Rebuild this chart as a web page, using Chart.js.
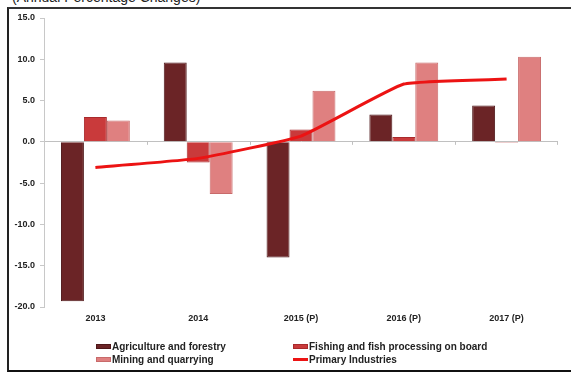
<!DOCTYPE html>
<html>
<head>
<meta charset="utf-8">
<script src="https://cdn.jsdelivr.net/npm/chart.js@4.4.1/dist/chart.umd.min.js"></script>
<style>
  html, body { margin: 0; padding: 0; background: #fff; overflow: hidden; }
  body { width: 571px; height: 372px; position: relative; font-family: "Liberation Sans", Arial, sans-serif; }
  #frame { position: absolute; left: 7px; top: 7px; width: 580px; height: 361px;
           border-top: 2px solid #333; border-left: 2px solid #222; border-bottom: 2px solid #111; }
  #title { position: absolute; left: 12px; top: -11px; font-size: 14px; color: #222; white-space: nowrap; }
  #wrap { position: absolute; left: 0; top: 0; width: 571px; height: 372px; }
  #legend { position: absolute; left: 96px; top: 340px; font-size: 10px; font-weight: bold; color: #222; }
  .item { position: absolute; white-space: nowrap; display: flex; align-items: center; height: 13px; }
  .sw { width: 15px; height: 5px; margin-right: 1px; box-sizing: border-box; }
</style>
</head>
<body>
<div id="title">(Annual Percentage Changes)</div>
<div id="frame"></div>
<div id="wrap"><canvas id="c" width="571" height="372"></canvas></div>
<div id="legend"></div>
<script>
const years = ['2013', '2014', '2015 (P)', '2016 (P)', '2017 (P)'];
const agriculture = [-19.3, 9.6, -14.0, 3.3, 4.4];
const fishing = [3.0, -2.5, 1.5, 0.6, -0.1];
const mining = [2.6, -6.3, 6.2, 9.6, 10.3];
const primary = [-3.1, -2.0, 0.7, 7.0, 7.6];
const yTicks = [15, 10, 5, 0, -5, -10, -15, -20];

const labelFont = { family: '"Liberation Sans", Arial, sans-serif', size: 9, weight: 'bold' };

// small tick marks on the zero line between the year groups
const zeroTicks = {
  id: 'zeroTicks',
  beforeDatasetsDraw(chart) {
    const { ctx, scales: { x, y } } = chart;
    const y0 = y.getPixelForValue(0);
    const n = x.ticks.length;
    ctx.save();
    ctx.strokeStyle = '#c0c0c0';
    ctx.lineWidth = 1;
    for (let i = 1; i <= n; i++) {
      const px = Math.round((x.getPixelForTick(i - 1) + (i < n ? x.getPixelForTick(i) : x.right + (x.right - x.getPixelForTick(n - 1)))) / 2) + 0.5;
      const xx = i < n ? px : x.right - 0.5;
      ctx.beginPath();
      ctx.moveTo(xx, y0);
      ctx.lineTo(xx, y0 + 3);
      ctx.stroke();
    }
    ctx.restore();
  }
};

const chart = new Chart(document.getElementById('c'), {
  data: {
    labels: years,
    datasets: [
      { type: 'line', label: 'Primary Industries', data: primary, borderColor: '#ec1313',
        backgroundColor: '#ec1313', borderWidth: 3, pointRadius: 0, tension: 0.12, order: 0 },
      { type: 'bar', label: 'Agriculture and forestry', data: agriculture,
        backgroundColor: '#6b2426', borderColor: '#4e1719', borderWidth: 1, order: 1 },
      { type: 'bar', label: 'Fishing and fish processing on board', data: fishing,
        backgroundColor: '#c93a3b', borderColor: '#a82a2c', borderWidth: 1, order: 1 },
      { type: 'bar', label: 'Mining and quarrying', data: mining,
        backgroundColor: '#df8080', borderColor: '#c86a6a', borderWidth: 1, order: 1 }
    ]
  },
  options: {
    responsive: false,
    animation: false,
    layout: { padding: { top: 18, right: 13, left: 0, bottom: 0 } },
    datasets: { bar: { barPercentage: 1.0, categoryPercentage: 0.67 } },
    plugins: { legend: { display: false }, tooltip: { enabled: false } },
    scales: {
      x: {
        grid: { display: false },
        border: { display: false },
        ticks: { color: '#222', font: labelFont, padding: -2, maxRotation: 0 },
        afterFit: s => { s.height = 65; }
      },
      y: {
        min: -20, max: 15,
        afterBuildTicks: s => { s.ticks = yTicks.map(v => ({ value: v })); },
        afterFit: s => { s.width = 44; },
        border: { display: true, color: '#c8c8c8', width: 1 },
        grid: {
          color: ctx => (ctx.tick && ctx.tick.value === 0 ? '#c0c0c0' : 'rgba(0,0,0,0)'),
          tickColor: '#c8c8c8', tickLength: 4, lineWidth: 1
        },
        ticks: { color: '#222', font: labelFont, padding: 5, callback: v => Number(v).toFixed(1) }
      }
    }
  },
  plugins: [zeroTicks]
});

// Two-column legend built from the chart's datasets
const legendOrder = [
  { ds: 1, x: 0, y: 0 }, { ds: 2, x: 197, y: 0 },
  { ds: 3, x: 0, y: 13 }, { ds: 0, x: 197, y: 13 }
];
const legendEl = document.getElementById('legend');
legendOrder.forEach(o => {
  const ds = chart.data.datasets[o.ds];
  const item = document.createElement('div');
  item.className = 'item';
  item.style.left = o.x + 'px';
  item.style.top = o.y + 'px';
  const sw = document.createElement('span');
  sw.className = 'sw';
  if (ds.type === 'line') {
    sw.style.height = '3px';
    sw.style.background = ds.borderColor;
  } else {
    sw.style.background = ds.backgroundColor;
    sw.style.border = '1px solid ' + ds.borderColor;
  }
  const tx = document.createElement('span');
  tx.textContent = ds.label;
  item.appendChild(sw);
  item.appendChild(tx);
  legendEl.appendChild(item);
});
</script>
</body>
</html>
